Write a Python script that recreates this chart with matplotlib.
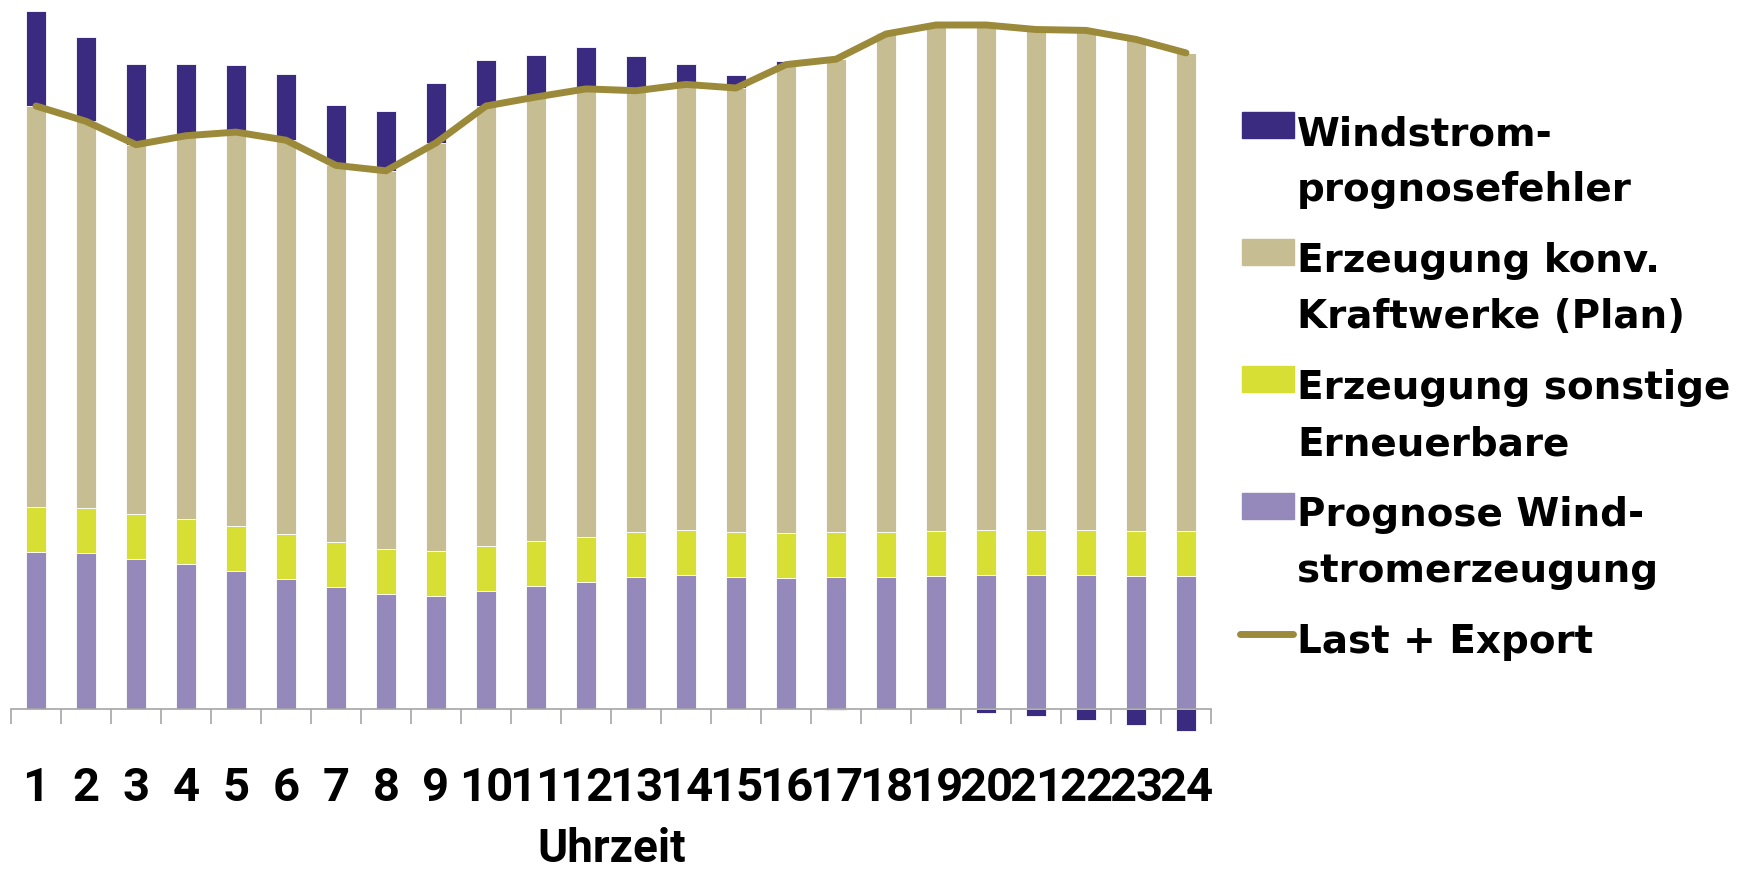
import numpy as np
import matplotlib.pyplot as plt
from matplotlib.patches import Rectangle
from matplotlib.lines import Line2D

# Stundenwerte in GW
hours = list(range(1, 25))
wind_forecast = [17.4, 17.3, 16.7, 16.1, 15.3, 14.5, 13.6, 12.8, 12.6, 13.1, 13.7, 14.1,
                 14.7, 14.9, 14.7, 14.6, 14.7, 14.7, 14.8, 14.9, 14.9, 14.9, 14.8, 14.8]
other_renewables = [5.0] * 24
conventional = [44.6, 43.0, 41.0, 42.6, 43.8, 43.7, 41.8, 42.0, 45.3, 48.9, 49.3, 49.8,
                49.0, 49.5, 49.3, 52.0, 52.5, 55.3, 56.2, 56.1, 55.6, 55.5, 54.6, 53.1]
forecast_error = [10.6, 9.4, 9.0, 8.0, 7.5, 7.3, 6.7, 6.6, 6.7, 5.1, 4.7, 4.6,
                  3.8, 2.3, 1.4, 0.4, -0.1, 0.1, 0.0, -0.45, -0.8, -1.2, -1.8, -2.4]
load_export = [67.0, 65.3, 62.7, 63.7, 64.1, 63.2, 60.4, 59.8, 62.9, 67.0, 68.0, 68.9,
               68.7, 69.4, 69.0, 71.6, 72.2, 75.0, 76.0, 76.0, 75.5, 75.4, 74.4, 72.9]

legend_labels = [
    ("Windstrom-", "prognosefehler"),
    ("Erzeugung konv.", "Kraftwerke (Plan)"),
    ("Erzeugung sonstige", "Erneuerbare"),
    ("Prognose Wind-", "stromerzeugung"),
    ("Last + Export",),
]

C_ERR = "#3a2b80"
C_CONV = "#c6bd92"
C_OTHER = "#d7df35"
C_WIND = "#9489ba"
C_LINE = "#9c8a3b"

NARROW = ["Liberation Sans Narrow", "Roboto"]

W, H = 1742, 869
fig = plt.figure(figsize=(W / 100, H / 100), dpi=100)
ax = fig.add_axes([11 / W, 133 / H, 1200 / W, 736.2 / H])

x = np.array(hours)
bw = 0.4
edge = dict(edgecolor="white", linewidth=0.6)

ax.bar(x, wind_forecast, bw, color=C_WIND, **edge)
bottom = np.array(wind_forecast)
ax.bar(x, other_renewables, bw, bottom=bottom, color=C_OTHER, **edge)
bottom = bottom + np.array(other_renewables)
ax.bar(x, conventional, bw, bottom=bottom, color=C_CONV, **edge)
bottom = bottom + np.array(conventional)

err = np.array(forecast_error)
ax.bar(x, np.where(err > 0, err, 0), bw, bottom=bottom, color=C_ERR, **edge)
ax.bar(x, np.where(err < 0, err, 0), bw, bottom=0, color=C_ERR, **edge)

ax.plot(x, load_export, color=C_LINE, lw=5, solid_capstyle="round",
        solid_joinstyle="round", zorder=5)

ax.set_xlim(0.5, 24.5)
ax.set_ylim(-3, 78.8)
for s in ["top", "right", "left"]:
    ax.spines[s].set_visible(False)
ax.spines["bottom"].set_position(("data", 0))
ax.spines["bottom"].set_color("#a6a6a6")
ax.spines["bottom"].set_linewidth(1.2)
ax.set_yticks([])

# Kategorienbeschriftung mittig, Trennstriche zwischen den Stunden
ax.set_xticks(x)
ax.set_xticklabels([str(h) for h in hours])
ax.set_xticks(np.arange(0.5, 25, 1), minor=True)
ax.tick_params(axis="x", which="major", length=0, pad=66)
ax.tick_params(axis="x", which="minor", length=11, width=1.2, color="#a6a6a6")
for lbl in ax.get_xticklabels():
    lbl.set_fontfamily(NARROW)
    lbl.set_fontweight("bold")
    lbl.set_fontsize(34)
    lbl.set_va("baseline")

fig.text(612 / W, 1 - 862 / H, "Uhrzeit", ha="center", va="baseline",
         fontsize=33, fontweight="bold", family=NARROW)

# Legende rechts
handles = [C_ERR, C_CONV, C_OTHER, C_WIND, C_LINE]
for i, (lines, color) in enumerate(zip(legend_labels, handles)):
    base = 145 + i * 127
    if i < 4:
        fig.patches.append(Rectangle((1242 / W, 1 - (base - 7) / H), 52 / W, 26 / H,
                                     transform=fig.transFigure, color=color))
    else:
        fig.lines.append(Line2D([1240 / W, 1293 / W], [1 - (base - 19) / H] * 2,
                                transform=fig.transFigure, color=color, lw=5,
                                solid_capstyle="round"))
    for j, t in enumerate(lines):
        fig.text(1297 / W, 1 - (base + j * 56) / H, t, ha="left", va="baseline",
                 fontsize=28, fontweight="bold", family="DejaVu Sans")

fig.savefig("out.png", dpi=100)
